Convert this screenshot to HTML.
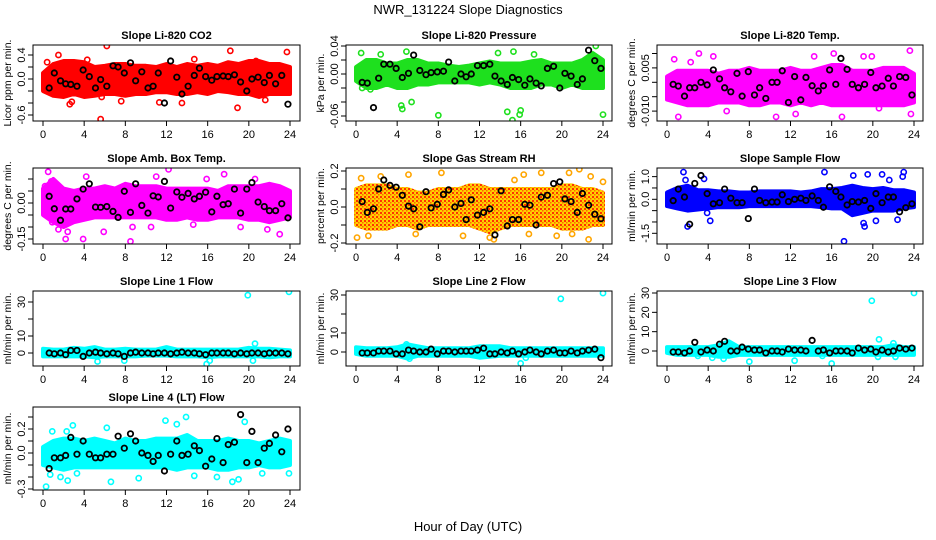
<!DOCTYPE html>
<html><head><meta charset="utf-8">
<style>
html,body{margin:0;padding:0;background:#fff;}
svg{display:block;font-family:"Liberation Sans",sans-serif;}
</style></head>
<body>
<svg id="chart" width="936" height="540" viewBox="0 0 936 540" xmlns="http://www.w3.org/2000/svg">
<defs>
<pattern id="rh-pattern" width="4" height="4" patternUnits="userSpaceOnUse">
<rect width="4" height="4" fill="#ffd000"/>
<rect x="0" y="0" width="2" height="2" fill="#ff3300"/>
<rect x="2" y="2" width="1.5" height="1.5" fill="#ff6600"/>
</pattern>
</defs>
<text x="468" y="14" text-anchor="middle" font-size="13">NWR_131224  Slope Diagnostics</text>
<text x="468" y="531" text-anchor="middle" font-size="13">Hour of Day (UTC)</text>
</svg>
<script>
const blackHours=[0.6,1.1,1.7,2.2,2.7,3.3,3.9,4.5,5.1,5.6,6.2,6.8,7.3,7.9,8.5,9.0,9.6,10.2,10.7,11.2,11.8,12.4,13.0,13.5,14.1,14.7,15.2,15.8,16.4,16.9,17.5,18.0,18.6,19.2,19.8,20.3,20.9,21.5,22.0,22.6,23.2,23.8];
const xTicks=[0,4,8,12,16,20,24];

const co2Hi=[0.1,0.25,0.3,0.3,0.28,0.2,0.22,0.25,0.25,0.22,0.22,0.2,0.25,0.2,0.25,0.22,0.25,0.22,0.28,0.25,0.3,0.3,0.25,0.25,0.2];
const co2Lo=[-0.2,-0.28,-0.3,-0.25,-0.3,-0.28,-0.25,-0.25,-0.28,-0.25,-0.25,-0.22,-0.22,-0.25,-0.25,-0.22,-0.25,-0.2,-0.22,-0.25,-0.25,-0.3,-0.25,-0.25,-0.25];
const co2OutH=[1.5,2.6,2.8,4.3,5.6,5.7,6.2,7.6,11.3,13.5,14.7,18.2,18.9,20.7,21.6,23.7,0.4];
const co2OutV=[0.4,-0.42,-0.38,0.32,-0.67,-0.3,0.55,-0.37,-0.39,-0.4,0.33,0.47,-0.48,0.3,-0.35,0.45,0.28];
const co2Black=[-0.15,0.1,-0.03,-0.08,-0.09,-0.12,0.15,0.04,-0.15,-0.01,-0.12,0.22,0.2,0.1,0.27,-0.03,0.12,-0.15,-0.12,0.1,-0.4,0.3,0.03,-0.25,-0.12,0.06,0.18,0.04,-0.02,0.04,0.05,0.04,0.07,-0.05,-0.2,0,0.03,-0.06,0.06,-0.08,0.06,-0.42];

const presHi=[0.01,0.02,0.02,0.015,0.015,0.02,0.02,0.015,0.015,0.012,0.01,0.012,0.015,0.018,0.015,0.015,0.015,0.018,0.02,0.015,0.015,0.015,0.02,0.03,0.02];
const presLo=[-0.01,-0.02,-0.02,-0.015,-0.02,-0.02,-0.015,-0.015,-0.012,-0.012,-0.012,-0.012,-0.015,-0.012,-0.015,-0.02,-0.02,-0.02,-0.015,-0.015,-0.02,-0.015,-0.02,-0.02,-0.02];
const presOutH=[0.5,0.6,1.4,2.4,4.4,4.5,4.9,5.4,8.0,13.8,14.7,15.2,15.3,15.9,16.0,17.3,23.3,24.0];
const presOutV=[0.03,-0.02,-0.022,0.028,-0.045,-0.05,0.032,-0.04,-0.059,0.03,-0.054,-0.066,0.032,-0.058,-0.052,0.028,0.04,-0.058];
const presBlack=[-0.012,-0.013,-0.048,-0.006,0.014,0.014,0.008,-0.005,0.001,0.027,0.005,-0.001,0.002,0.003,0.004,0.017,-0.01,0,-0.004,0,0.012,0.012,0.014,-0.003,-0.01,-0.015,-0.005,-0.008,-0.016,-0.007,-0.013,-0.017,0.008,0.011,-0.02,0.001,-0.003,-0.015,-0.007,0.034,0.019,0.008];

const tempHi=[0.002,0.004,0.004,0.004,0.004,0.003,0.004,0.004,0.005,0.004,0.004,0.004,0.005,0.004,0.004,0.005,0.006,0.006,0.004,0.004,0.004,0.005,0.005,0.005,0.003];
const tempLo=[-0.006,-0.007,-0.008,-0.008,-0.008,-0.007,-0.007,-0.007,-0.008,-0.008,-0.007,-0.007,-0.008,-0.007,-0.008,-0.007,-0.008,-0.008,-0.008,-0.008,-0.008,-0.008,-0.008,-0.008,-0.007];
const tempOutH=[0.7,1.1,2.3,3.1,4.5,5.8,10.6,12.5,14.3,16.2,17.0,19.1,19.9,20.6,23.6,23.7];
const tempOutV=[0.008,-0.012,0.007,0.01,0.009,-0.01,-0.012,-0.011,0.009,0.01,-0.012,0.009,0.009,-0.009,0.011,-0.011];
const tempBlack=[-0.0007,-0.0013,-0.0048,-0.0019,-0.0019,0,-0.0009,0.0043,0.0012,-0.0019,-0.0033,0.0031,-0.0048,0.0037,-0.0044,-0.0019,-0.0056,0,0,0.004,-0.007,0.002,-0.0061,0.0017,-0.0012,-0.003,-0.0012,0.0043,-0.0007,0.0083,0.0045,-0.0007,-0.0019,-0.0007,0.0034,-0.0019,-0.0013,0.0014,-0.0013,0.002,0.0017,-0.0044];

const ambHi=[0.06,0.1,0.06,0.05,0.06,0.06,0.07,0.06,0.08,0.07,0.07,0.07,0.06,0.06,0.06,0.06,0.06,0.05,0.07,0.07,0.07,0.07,0.08,0.07,0.05];
const ambLo=[-0.05,-0.08,-0.1,-0.08,-0.07,-0.06,-0.06,-0.06,-0.06,-0.06,-0.06,-0.06,-0.07,-0.07,-0.06,-0.07,-0.07,-0.06,-0.06,-0.06,-0.07,-0.07,-0.08,-0.07,-0.06];
const ambOutH=[0.2,0.5,0.8,1.5,2.2,2.4,3.9,4.2,5.9,8.5,8.7,10.5,11.0,12.2,14.6,15.9,17.6,19.2,20.6,21.8,23.0,0.9];
const ambOutV=[0.07,0.13,0.09,-0.11,-0.15,-0.12,-0.15,0.11,-0.12,-0.16,-0.1,-0.1,0.11,0.14,-0.09,0.1,0.12,-0.1,0.1,-0.11,-0.13,-0.08];
const ambBlack=[0.028,-0.024,-0.072,-0.025,-0.025,0.017,0.058,0.08,-0.017,-0.018,-0.015,-0.035,-0.06,0.049,-0.039,0.08,-0.01,-0.042,0.03,0.025,0.09,-0.021,0.046,0.024,0.04,0.017,0.028,0.045,-0.037,0.028,-0.007,-0.003,0.058,-0.042,0.058,0.085,0.004,-0.015,-0.032,-0.032,-0.003,-0.062];

const rhHi=[0.1,0.12,0.12,0.12,0.1,0.1,0.08,0.08,0.1,0.1,0.1,0.12,0.12,0.1,0.1,0.1,0.1,0.1,0.1,0.1,0.12,0.12,0.1,0.1,0.08];
const rhLo=[-0.1,-0.12,-0.12,-0.12,-0.1,-0.1,-0.12,-0.1,-0.1,-0.1,-0.1,-0.1,-0.12,-0.14,-0.12,-0.1,-0.1,-0.1,-0.1,-0.1,-0.12,-0.12,-0.12,-0.1,-0.1];
const rhOutH=[0.1,0.5,1.2,2.4,5.1,5.8,8.3,10.4,13.0,13.4,15.4,16.3,16.8,18.0,19.5,20.7,21.0,21.7,22.6,22.8,24.0];
const rhOutV=[-0.17,0.16,-0.16,0.17,0.18,-0.15,0.19,-0.16,-0.17,-0.18,0.15,0.18,-0.15,0.19,-0.16,0.19,-0.15,0.21,-0.18,0.17,0.14];
const rhBlack=[0.03,-0.03,-0.01,0.1,0.15,0.12,0.11,0.065,0.005,-0.01,-0.11,0.085,-0.005,0.015,0.07,0.095,0,0.02,-0.07,0.04,-0.045,-0.03,-0.01,-0.155,0.09,-0.105,-0.07,-0.07,0.015,0.01,-0.1,0.055,0.065,0.13,0.14,0.045,0.03,-0.03,0.075,0.01,-0.04,-0.065];

const sfHi=[0.3,0.5,0.6,0.4,0.4,0.35,0.35,0.3,0.3,0.35,0.35,0.35,0.35,0.3,0.35,0.45,0.45,0.5,0.6,0.5,0.45,0.5,0.4,0.4,0.3];
const sfLo=[-0.3,-0.4,-0.5,-0.45,-0.4,-0.35,-0.35,-0.35,-0.3,-0.3,-0.3,-0.3,-0.3,-0.3,-0.3,-0.35,-0.4,-0.4,-0.7,-0.6,-0.5,-0.5,-0.5,-0.4,-0.35];
const sfOutH=[1.6,1.8,2.0,3.6,3.9,4.2,15.3,17.2,18.1,19.1,19.5,20.9,21.6,22.4,22.9,23.0,19.2,20.3];
const sfOutV=[1.2,0.85,-1.2,0.9,-0.6,-0.95,1.2,-1.85,1.05,-1.05,1.1,1.1,0.85,-0.9,1.0,1.2,-1.2,-0.95];
const sfBlack=[-0.06,0.45,0.1,-1.1,0.7,1.05,0.25,-0.2,-0.15,0.45,0.05,-0.15,-0.15,-0.85,0.45,-0.05,-0.15,-0.12,-0.12,0.2,-0.1,0,0.05,-0.05,0.15,-0.05,-0.35,0.55,0.35,0.1,-0.25,-0.1,-0.12,-0.05,-0.4,0.25,-0.15,0.1,0.1,-0.55,-0.37,-0.2];

const l1Hi=[2.5,2,2,3,2.5,3.5,2,2,2.5,2,2,2,3.5,2,2,2,2,2,2,2,3,2.5,2.5,2,1.5];
const l1Lo=[-2,-2,-2,-2,-2,-2.5,-2,-2,-2,-2,-1.5,-1.5,-1.5,-2,-2,-2,-2.5,-2,-2,-2,-2,-2,-2.5,-2,-2];
const l1OutH=[5.3,7.9,15.9,16.2,19.9,20.4,20.6,23.9];
const l1OutV=[-5,-4.5,-6.5,-4.5,34,-4.5,5.5,36];
const l1Black=[0,-0.5,0,-1,1.5,1.5,-2,0,0.5,0,-0.5,0,-0.5,-2,0,0.5,0,0,-0.5,0,0,-0.5,0,0.5,0,0,-0.5,-1,0,0,0,0,-0.5,0,-0.5,0,0,-0.5,0,0,0,-0.5];

const l2Hi=[2.5,2,2,2,2.5,4,3,2,2,2,2,2,3,3,3,2,2,2,2,2,2,2,2,2,2];
const l2Lo=[-1,-2,-2,-2,-2,-3.5,-2,-2,-2,-2,-2,-2,-3,-2.5,-2,-2,-2,-2,-2,-2,-2,-2,-2,-2,-2];
const l2OutH=[16.0,16.5,19.9,24.0,5.2,4.9];
const l2OutV=[-6,-3,28,31,-3.5,4];
const l2Black=[-0.5,-0.5,-0.5,0.5,0.5,0.5,-1,-1,1,0.5,0,0,1.5,-1,0.5,0.5,0,0.5,0.5,0.5,1,2,-1,-1,0,-0.5,0.5,-1,0,1,0,-1,0.5,1,-0.5,-0.5,0.5,-0.5,0.5,1,1.5,-3];

const l3Hi=[2,2,2,2,2,3,5,2,2,2,2,2,2,2,2,2,2,2,2,2,2,2,3,2,2];
const l3Lo=[-1,-2,-2,-2,-2,-3,-3,-2,-2,-2,-2,-2,-2,-2,-2,-2,-2,-2,-2,-2,-2,-2,-2,-2,-2];
const l3OutH=[3.0,4.4,5.5,8.0,12.4,15.1,16.0,19.9,20.5,20.6,22.0,22.2,24.0];
const l3OutV=[-2.5,-3.5,-4,-5.5,-5,-2.5,-6.5,26,-3,6,4,-3,30];
const l3Black=[-0.5,-0.5,-1,0,4.5,-0.5,0.5,0,3.5,5,0,0,2,1,0.5,0.5,-1,0,0,-0.5,1,0.5,0.5,0,5.5,0,0.5,-1,0,0,0,-1,1.5,0.5,1,-0.5,0.5,-0.5,0,1.5,1,1.5];

const l4Hi=[0.05,0.1,0.12,0.12,0.1,0.12,0.1,0.08,0.12,0.1,0.1,0.12,0.12,0.12,0.15,0.1,0.1,0.1,0.12,0.1,0.1,0.08,0.1,0.12,0.1];
const l4Lo=[-0.1,-0.12,-0.14,-0.12,-0.12,-0.12,-0.12,-0.12,-0.12,-0.12,-0.12,-0.12,-0.12,-0.14,-0.12,-0.12,-0.12,-0.14,-0.14,-0.12,-0.12,-0.1,-0.12,-0.12,-0.1];
const l4OutH=[0.3,0.9,1.7,2.4,2.9,3.3,6.2,6.6,9.3,11.9,13.0,13.9,14.7,16.9,18.4,19.0,19.6,21.3,23.9,0.7,2.3];
const l4OutV=[-0.28,0.18,-0.2,-0.23,0.23,-0.17,0.21,-0.24,-0.21,0.27,0.24,0.3,-0.19,-0.2,-0.24,-0.22,0.26,-0.17,-0.17,-0.18,0.18];
const l4Black=[-0.13,-0.04,-0.04,-0.02,0.13,-0.01,0.1,-0.01,-0.04,-0.04,-0.01,-0.01,0.14,0.04,0.16,0.1,0,-0.02,-0.07,-0.02,-0.15,-0.01,0.1,-0.02,-0.01,0.06,0.02,-0.11,-0.05,0.12,-0.08,0.07,0.09,0.32,-0.08,0.18,-0.08,0.04,0.08,0.15,0.01,0.2];

const NS="http://www.w3.org/2000/svg";
const svg=document.getElementById('chart');
function mk(tag,attrs,parent){const e=document.createElementNS(NS,tag);for(const k in attrs)e.setAttribute(k,attrs[k]);(parent||svg).appendChild(e);return e;}

const cols=[[33,300],[346,612],[657,923]];
const rows=[[45,121],[168,244],[291,366],[407,490]];
const panels=[
 {name:'co2',title:'Slope Li-820 CO2',yl:'Licor ppm per min.',c:0,r:0,color:'#ff0000',py0:79,ppu:60,ticks:[-0.6,-0.4,-0.2,0,0.2,0.4],labs:{'0.4':'0.4','0':'0.0','-0.6':'-0.6'},hi:co2Hi,lo:co2Lo,oh:co2OutH,ov:co2OutV,bk:co2Black},
 {name:'pressure',title:'Slope Li-820 Pressure',yl:'kPa per min.',c:1,r:0,color:'#1ee01e',py0:74,ppu:700,ticks:[-0.06,-0.04,-0.02,0,0.02,0.04],labs:{'0.04':'0.04','0':'0.00','-0.06':'-0.06'},hi:presHi,lo:presLo,oh:presOutH,ov:presOutV,bk:presBlack},
 {name:'temp',title:'Slope Li-820 Temp.',yl:'degrees C per min.',c:2,r:0,color:'#ff00ff',py0:82.3,ppu:2880,ticks:[-0.01,-0.005,0,0.005,0.01],labs:{'0.005':'0.005','-0.01':'-0.010'},hi:tempHi,lo:tempLo,oh:tempOutH,ov:tempOutV,bk:tempBlack},
 {name:'amb-box-temp',title:'Slope Amb. Box Temp.',yl:'degrees C per min.',c:0,r:1,color:'#ff00ff',py0:203,ppu:240,ticks:[-0.15,-0.1,-0.05,0,0.05,0.1],labs:{'0':'0.00','-0.15':'-0.15'},hi:ambHi,lo:ambLo,oh:ambOutH,ov:ambOutV,bk:ambBlack},
 {name:'gas-rh',title:'Slope Gas Stream RH',yl:'percent per min.',c:1,r:1,color:'#ffa500',fill:'url(#rh-pattern)',py0:207,ppu:180,ticks:[-0.2,-0.1,0,0.1,0.2],labs:{'0.2':'0.2','0':'0.0','-0.2':'-0.2'},hi:rhHi,lo:rhLo,oh:rhOutH,ov:rhOutV,bk:rhBlack},
 {name:'sample-flow',title:'Slope Sample Flow',yl:'ml/min per min.',c:2,r:1,color:'#0000ff',py0:199.3,ppu:22.67,ticks:[-1.5,-1,-0.5,0,0.5,1],labs:{'1':'1.0','0':'0.0','-1.5':'-1.5'},hi:sfHi,lo:sfLo,oh:sfOutH,ov:sfOutV,bk:sfBlack},
 {name:'line1-flow',title:'Slope Line 1 Flow',yl:'ml/min per min.',c:0,r:2,color:'#00ffff',py0:353,ppu:1.7,ticks:[0,10,20,30],labs:{'0':'0','10':'10','30':'30'},hi:l1Hi,lo:l1Lo,oh:l1OutH,ov:l1OutV,bk:l1Black},
 {name:'line2-flow',title:'Slope Line 2 Flow',yl:'ml/min per min.',c:1,r:2,color:'#00ffff',py0:352,ppu:1.9,ticks:[0,10,20,30],labs:{'0':'0','10':'10','30':'30'},hi:l2Hi,lo:l2Lo,oh:l2OutH,ov:l2OutV,bk:l2Black},
 {name:'line3-flow',title:'Slope Line 3 Flow',yl:'ml/min per min.',c:2,r:2,color:'#00ffff',py0:351,ppu:1.933,ticks:[0,10,20,30],labs:{'0':'0','10':'10','20':'20','30':'30'},hi:l3Hi,lo:l3Lo,oh:l3OutH,ov:l3OutV,bk:l3Black},
 {name:'line4-flow',title:'Slope Line 4 (LT) Flow',yl:'ml/min per min.',c:0,r:3,color:'#00ffff',py0:453,ppu:120,ticks:[-0.3,-0.2,-0.1,0,0.1,0.2,0.3],labs:{'0.2':'0.2','0':'0.0','-0.3':'-0.3'},hi:l4Hi,lo:l4Lo,oh:l4OutH,ov:l4OutV,bk:l4Black}
];

panels.forEach(p=>{
  const [L,R]=cols[p.c];const [T,B]=rows[p.r];
  const xs=h=>L+10+h*(247/24);
  const ys=v=>p.py0-v*p.ppu;
  const g=mk('g',{});
  
  
  const t=mk('text',{x:(L+R)/2,y:T-6,'text-anchor':'middle','font-size':'11','font-weight':'bold'},g);
  t.textContent=p.title;
  
  
  const clip=mk('clipPath',{id:'clip-'+p.name},g);
  mk('rect',{x:L,y:T,width:R-L,height:B-T},clip);
  const plot=mk('g',{'clip-path':'url(#clip-'+p.name+')'},g);
  let d='';
  p.hi.forEach((v,i)=>{d+=(i?'L':'M')+xs(i).toFixed(1)+','+ys(v).toFixed(1);});
  for(let i=p.lo.length-1;i>=0;i--)d+='L'+xs(i).toFixed(1)+','+ys(p.lo[i]).toFixed(1);
  const band=mk('path',{d:d+'Z',fill:p.fill||p.color,stroke:p.fill||p.color,'stroke-width':'4','stroke-linejoin':'round'},plot);
  
  
  p.oh.forEach((h,i)=>{
    const c=mk('circle',{cx:xs(h),cy:ys(p.ov[i]),r:2.6,fill:'none',stroke:p.color,'stroke-width':'1.6'},plot);
    
    
  });
  p.bk.forEach((v,i)=>{
    const c=mk('circle',{cx:xs(blackHours[i]),cy:ys(v),r:2.7,fill:'none',stroke:'#000','stroke-width':'1.8'},plot);
    
    
  });
  const box=mk('rect',{x:L,y:T,width:R-L,height:B-T,fill:'none',stroke:'#000','stroke-width':'1'},g);
  
  
  xTicks.forEach(h=>{
    mk('line',{x1:xs(h),x2:xs(h),y1:B,y2:B+5,stroke:'#000'},g);
    const tl=mk('text',{x:xs(h),y:B+17,'text-anchor':'middle','font-size':'11'},g);
    tl.textContent=h;
    
    
  });
  p.ticks.forEach(v=>{
    const y=ys(v);
    mk('line',{x1:L-5,x2:L,y1:y,y2:y,stroke:'#000'},g);
    const key=String(v);
    if(p.labs[key]!==undefined){
      const tl=mk('text',{x:L-8,y:y,'text-anchor':'middle','font-size':'11',transform:'rotate(-90 '+(L-8)+' '+y+')'},g);
      tl.textContent=p.labs[key];
      
      
    }
  });
  const ym=(T+B)/2;
  const yt=mk('text',{x:L-22,y:ym,'text-anchor':'middle','font-size':'10.5',transform:'rotate(-90 '+(L-22)+' '+ym+')'},g);
  yt.textContent=p.yl;
  
  
});
</script>
</body></html>
